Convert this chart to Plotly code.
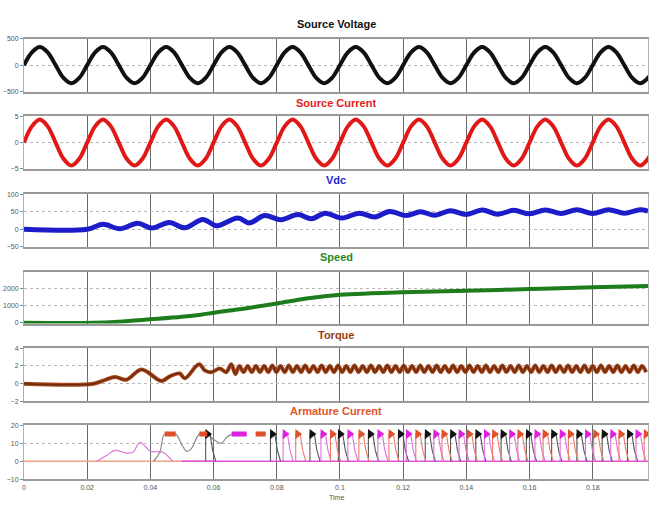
import numpy as np
import plotly.graph_objects as go

# ---------------- data ----------------
t_sine = np.linspace(0, 0.2, 81)   # eighth-period sampling grid (50 Hz)
voltage = [0, 240, 340, 240, 0, -240, -340, -240,
           0, 240, 340, 240, 0, -240, -340, -240,
           0, 240, 340, 240, 0, -240, -340, -240,
           0, 240, 340, 240, 0, -240, -340, -240,
           0, 240, 340, 240, 0, -240, -340, -240,
           0, 240, 340, 240, 0, -240, -340, -240,
           0, 240, 340, 240, 0, -240, -340, -240,
           0, 240, 340, 240, 0, -240, -340, -240,
           0, 240, 340, 240, 0, -240, -340, -240,
           0, 240, 340, 240, 0, -240, -340, -240, 0]
current = [0, 3.1, 4.4, 3.1, 0, -3.1, -4.4, -3.1,
           0, 3.1, 4.4, 3.1, 0, -3.1, -4.4, -3.1,
           0, 3.1, 4.4, 3.1, 0, -3.1, -4.4, -3.1,
           0, 3.1, 4.4, 3.1, 0, -3.1, -4.4, -3.1,
           0, 3.1, 4.4, 3.1, 0, -3.1, -4.4, -3.1,
           0, 3.1, 4.4, 3.1, 0, -3.1, -4.4, -3.1,
           0, 3.1, 4.4, 3.1, 0, -3.1, -4.4, -3.1,
           0, 3.1, 4.4, 3.1, 0, -3.1, -4.4, -3.1,
           0, 3.1, 4.4, 3.1, 0, -3.1, -4.4, -3.1,
           0, 3.1, 4.4, 3.1, 0, -3.1, -4.4, -3.1, 0]

vdc_t = [0, 0.02, 0.025, 0.0303, 0.036, 0.0405, 0.046, 0.051, 0.0566, 0.061,
         0.0677, 0.0714, 0.0761, 0.0814, 0.0867, 0.091, 0.0953, 0.1006, 0.1062,
         0.111, 0.1157, 0.121, 0.1255, 0.130, 0.135, 0.140, 0.145, 0.150, 0.155,
         0.160, 0.165, 0.170, 0.175, 0.180, 0.185, 0.190, 0.195, 0.1975]
vdc_v = [0, 0, 14, 1, 17, 3, 19, 4, 28, 10, 32, 18, 39, 27, 42, 30, 46, 32, 46,
         35, 51, 39, 50, 40, 53, 42, 55, 43, 54, 44, 55, 45, 56, 45, 56, 46, 56, 52]

speed_t = [0, 0.022, 0.03, 0.04, 0.05, 0.056, 0.06, 0.07, 0.08, 0.09, 0.1,
           0.11, 0.12, 0.14, 0.16, 0.18, 0.1975]
speed_v = [0, 0, 60, 200, 350, 470, 580, 830, 1120, 1420, 1620,
           1700, 1760, 1850, 1950, 2050, 2130]

torque_t = [0, 0.022, 0.0255, 0.0288, 0.0324, 0.0372, 0.0435, 0.046, 0.0493,
            0.0509, 0.0554, 0.0572, 0.0593, 0.062, 0.064]
torque_v = [0, 0, 0.4, 0.75, 0.45, 1.6, 0.3, 0.8, 1.15, 0.6, 2.2, 1.5, 1.3, 1.7, 1.3]
ripple_start, ripple_step = 0.0656, 0.0013
torque_ripple = [2.2, 1.1, 2.0, 1.3, 2.0, 1.3, 2.0, 1.3, 2.0, 1.3,
                 2.05, 1.3, 2.0, 1.3, 2.05, 1.3, 2.0, 1.3, 2.05, 1.3,
                 2.0, 1.3, 2.05, 1.3, 2.0, 1.3, 2.05, 1.3, 2.0, 1.3,
                 2.05, 1.3, 2.0, 1.3, 2.05, 1.3, 2.0, 1.3, 2.05, 1.3,
                 2.0, 1.3, 2.05, 1.3, 2.0, 1.3, 2.05, 1.3, 2.0, 1.3,
                 2.05, 1.3, 2.0, 1.3, 2.05, 1.3, 2.0, 1.3, 2.05, 1.3,
                 2.0, 1.3, 2.05, 1.3, 2.0, 1.3, 2.05, 1.3, 2.0, 1.3,
                 2.05, 1.3, 2.0, 1.3, 2.05, 1.3, 2.0, 1.3, 2.05, 1.3,
                 2.0, 1.3, 2.05, 1.3, 2.0, 1.3, 2.05, 1.3, 2.0, 1.3,
                 2.05, 1.3, 2.0, 1.3, 2.05, 1.3, 2.0, 1.3, 2.05, 1.3, 2.0, 1.3]

# armature current
arm_pink_t = [0.023, 0.026, 0.0288, 0.0325, 0.0345, 0.0367, 0.0385, 0.040, 0.044, 0.046, 0.047]
arm_pink_v = [0, 3, 6, 4.5, 5, 10.5, 8, 5.5, 5, 2, 0]
arm_gray_t = [0.041, 0.043, 0.0445, 0.048, 0.050, 0.0515, 0.053, 0.0555, 0.058, 0.060, 0.0625, 0.064, 0.0657]
arm_gray_v = [0, 5, 15, 15, 9, 5.5, 7, 15, 15, 12, 10, 13, 15]
early_red_start = [0.0445, 0.0555, 0.0733]
early_red_end = [0.048, 0.058, 0.0765]
early_mag_start = [0.0657]
early_mag_end = [0.0705]
pulse_top = 15
black_on = [0.0575, 0.078, 0.0905, 0.0995, 0.109, 0.1185, 0.127, 0.135, 0.143,
            0.151, 0.159, 0.167, 0.175, 0.183, 0.191]
magenta_on = [0.082, 0.094, 0.1025, 0.112, 0.121, 0.1297, 0.1377, 0.1457,
              0.1537, 0.1617, 0.1697, 0.1777, 0.1857, 0.1937]
red_on = [0.086, 0.097, 0.106, 0.1155, 0.124, 0.1323, 0.1403, 0.1483, 0.1563,
          0.1643, 0.1723, 0.1803, 0.1883, 0.1963]

x_ticks = [0, 0.02, 0.04, 0.06, 0.08, 0.1, 0.12, 0.14, 0.16, 0.18]
x_ticktext = ["0", "0.02", "0.04", "0.06", "0.08", "0.1", "0.12", "0.14", "0.16", "0.18"]

titles = ["Source Voltage", "Source Current", "Vdc", "Speed", "Torque", "Armature Current"]
title_colors = ["#111111", "#e21b1b", "#1f1fd0", "#1f8a1f", "#9a3d12", "#e0552a"]

# ---------------- layout geometry (screen pixels) ----------------
W, H = 649, 505
panels_px = [(35, 89), (114, 167), (193, 246), (272, 324), (349, 403), (427, 482)]
title_y_px = [20, 100, 178, 257, 336, 413]
y_ranges = [[-500, 500], [-5, 5], [-50, 100], [-40, 2920], [-2, 4], [-10, 20]]
y_ticks = [[-500, 0, 500], [-5, 0, 5], [-50, 0, 50, 100], [0, 1000, 2000],
           [-2, 0, 2, 4], [-10, 0, 10, 20]]

FONT = "Liberation Sans, Arial, sans-serif"

fig = go.Figure()

def add(x, y, i, color, width, shape="linear", mode="lines", marker=None):
    fig.add_trace(go.Scatter(
        x=x, y=y, mode=mode, xaxis="x" if i == 0 else f"x{i+1}",
        yaxis="y" if i == 0 else f"y{i+1}",
        line=dict(color=color, width=width, shape=shape),
        marker=marker, showlegend=False, hoverinfo="skip"))

add(t_sine, voltage, 0, "#111111", 4, "spline")
add(t_sine, current, 1, "#e01818", 4, "spline")
add(vdc_t, vdc_v, 2, "#1c1cc8", 5, "spline")
add(speed_t, speed_v, 3, "#1d7d1d", 4, "spline")
rip_t = [ripple_start + k * ripple_step for k in range(len(torque_ripple))]
add(torque_t + rip_t, torque_v + torque_ripple, 4, "#a3441a", 4, "spline")
add(torque_t + rip_t, torque_v + torque_ripple, 4, "#6e2a0c", 1.5, "spline")

add([0, 0.06], [0, 0], 5, "#f2a080", 1.5)
add([0.05, 0.1975], [0, 0], 5, "#e050e0", 1.5)
add(arm_pink_t, arm_pink_v, 5, "#d878d8", 1.2, "spline")
add(arm_gray_t, arm_gray_v, 5, "#8a8a8a", 1.2, "spline")

def pulses(onsets, thin_color, mark_color, i=5):
    xs, ys = [], []
    for t0 in onsets:
        xs += [t0, t0, t0 + 0.0014, t0 + 0.0022, t0 + 0.0032, None]
        ys += [0, pulse_top, pulse_top, 6, 0, None]
    add(xs, ys, i, thin_color, 1.1)
    add([t0 + 0.0006 for t0 in onsets], [pulse_top] * len(onsets), i, mark_color, 1,
        mode="markers", marker=dict(symbol="triangle-right", size=9, color=mark_color,
                                    line=dict(width=0)))

pulses(black_on, "#555555", "#111111")
pulses(magenta_on, "#e070e0", "#e020e0")
pulses(red_on, "#f07a6a", "#e0502a")

def flats(starts, ends, color):
    xs, ys = [], []
    for a, b in zip(starts, ends):
        xs += [a, b, None]
        ys += [pulse_top, pulse_top, None]
    add(xs, ys, 5, color, 5)

flats(early_red_start, early_red_end, "#e0502a")
flats(early_mag_start, early_mag_end, "#e020e0")

# ---------------- axes ----------------
layout = dict(width=W, height=H, margin=dict(l=24, r=0, t=0, b=0),
              paper_bgcolor="white", plot_bgcolor="white",
              font=dict(family=FONT, size=8, color="#444444"))
for i, (top, bot) in enumerate(panels_px):
    dom = [1 - bot / H, 1 - top / H]
    xa = "xaxis" if i == 0 else f"xaxis{i+1}"
    ya = "yaxis" if i == 0 else f"yaxis{i+1}"
    yref = "y" if i == 0 else f"y{i+1}"
    xref = "x" if i == 0 else f"x{i+1}"
    layout[xa] = dict(domain=[0, 1], anchor=yref, range=[0, 0.1975],
                      tickvals=x_ticks, ticktext=x_ticktext,
                      showticklabels=(i == 5), showgrid=True,
                      gridcolor="#6a6a6a", gridwidth=1, zeroline=False,
                      showline=True, linecolor="#9a9a9a", linewidth=2, mirror=True,
                      ticks="", tickfont=dict(size=7, color="#555555"),
                      matches=None if i == 0 else "x")
    layout[ya] = dict(domain=dom, anchor=xref, range=y_ranges[i],
                      tickvals=y_ticks[i], showgrid=True, gridcolor="#b8b8b8",
                      griddash="dot", gridwidth=1, zeroline=False,
                      showline=True, linecolor="#b0b0b0", linewidth=1, mirror=True,
                      ticks="outside", ticklen=3, tickcolor="#888888",
                      tickfont=dict(size=7, color="#555555"))
fig.update_layout(**layout)

annotations = []
for i, ttl in enumerate(titles):
    annotations.append(dict(text=f"<b>{ttl}</b>", x=0.5, xref="paper",
                            y=1 - title_y_px[i] / H, yref="paper",
                            xanchor="center", yanchor="middle", showarrow=False,
                            font=dict(family=FONT, size=11, color=title_colors[i])))
annotations.append(dict(text="Time", x=0.5, xref="paper", y=1 - 500 / H, yref="paper",
                        xanchor="center", yanchor="middle", showarrow=False,
                        font=dict(family=FONT, size=7, color="#555555")))
fig.update_layout(annotations=annotations)

fig.write_html("out.html",
               config={"displayModeBar": False, "staticPlot": True},
               post_script="document.body.style.margin='0px';"
                           "document.body.style.overflow='hidden';"
                           "document.documentElement.style.overflow='hidden';")
